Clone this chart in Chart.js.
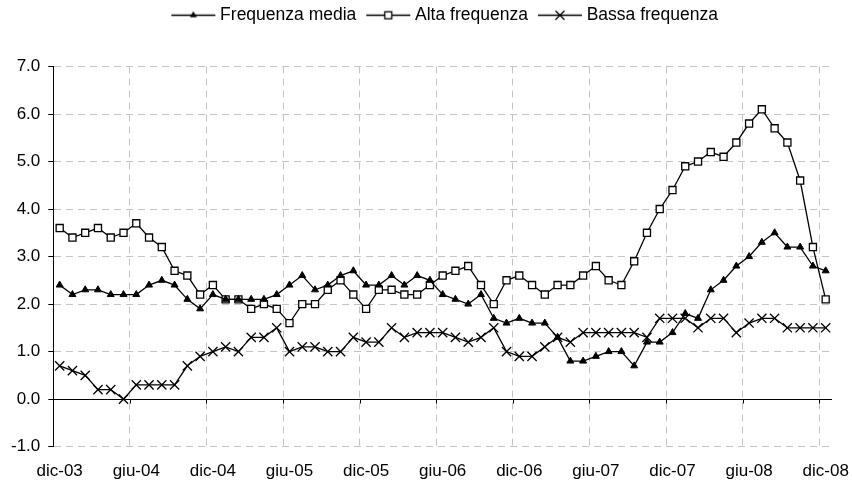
<!DOCTYPE html>
<html>
<head>
<meta charset="utf-8">
<script src="https://cdn.jsdelivr.net/npm/chart.js@4.4.0/dist/chart.umd.min.js"></script>
<style>
    body { margin: 0; background: #fff; }
</style>
</head>
<body>
<canvas id="myChart" width="852" height="482"></canvas>
<script>
// months dic-03 ... dic-08 (61 points)
const mesi = ["gen", "feb", "mar", "apr", "mag", "giu", "lug", "ago", "set", "ott", "nov", "dic"];
const anni = ["03", "04", "05", "06", "07", "08"];

const seriesNames = ["Frequenza media", "Alta frequenza", "Bassa frequenza"];

const mediaData = [
    2.4, 2.2, 2.3, 2.3, 2.2, 2.2, 2.2, 2.4, 2.5, 2.4,
    2.1, 1.9, 2.2, 2.1, 2.1, 2.1, 2.1, 2.2, 2.4, 2.6,
    2.3, 2.4, 2.6, 2.7, 2.4, 2.4, 2.6, 2.4, 2.6, 2.5,
    2.2, 2.1, 2.0, 2.2, 1.7, 1.6, 1.7, 1.6, 1.6, 1.3,
    0.8, 0.8, 0.9, 1.0, 1.0, 0.7, 1.2, 1.2, 1.4, 1.8,
    1.7, 2.3, 2.5, 2.8, 3.0, 3.3, 3.5, 3.2, 3.2, 2.8,
    2.7
];

const altaData = [
    3.6, 3.4, 3.5, 3.6, 3.4, 3.5, 3.7, 3.4, 3.2, 2.7,
    2.6, 2.2, 2.4, 2.1, 2.1, 1.9, 2.0, 1.9, 1.6, 2.0,
    2.0, 2.3, 2.5, 2.2, 1.9, 2.3, 2.3, 2.2, 2.2, 2.4,
    2.6, 2.7, 2.8, 2.4, 2.0, 2.5, 2.6, 2.4, 2.2, 2.4,
    2.4, 2.6, 2.8, 2.5, 2.4, 2.9, 3.5, 4.0, 4.4, 4.9,
    5.0, 5.2, 5.1, 5.4, 5.8, 6.1, 5.7, 5.4, 4.6, 3.2,
    2.1
];

const bassaData = [
    0.7, 0.6, 0.5, 0.2, 0.2, 0.0, 0.3, 0.3, 0.3, 0.3,
    0.7, 0.9, 1.0, 1.1, 1.0, 1.3, 1.3, 1.5, 1.0, 1.1,
    1.1, 1.0, 1.0, 1.3, 1.2, 1.2, 1.5, 1.3, 1.4, 1.4,
    1.4, 1.3, 1.2, 1.3, 1.5, 1.0, 0.9, 0.9, 1.1, 1.3,
    1.2, 1.4, 1.4, 1.4, 1.4, 1.4, 1.3, 1.7, 1.7, 1.7,
    1.5, 1.7, 1.7, 1.4, 1.6, 1.7, 1.7, 1.5, 1.5, 1.5,
    1.5
];

// build category labels "dic-03", "gen-04", ...
const labels = ["dic-" + anni[0]];
for (let a = 1; a < anni.length; a++) {
    for (let m = 0; m < 12; m++) {
        labels.push(mesi[m] + "-" + anni[a]);
    }
}

const FONT = "'Liberation Sans', Arial, sans-serif";
const GRID = "#c4c4c4";

// legend icon: short line with the marker in the middle
function legendIcon(kind) {
    const c = document.createElement("canvas");
    c.width = 56;
    c.height = 14;
    const g = c.getContext("2d");
    g.strokeStyle = "#000";
    g.lineWidth = 1.3;
    g.beginPath();
    g.moveTo(10, 7.5);
    g.lineTo(54, 7.5);
    g.stroke();
    const cx = 32, cy = 7.5;
    if (kind === "triangle") {
        g.fillStyle = "#000";
        g.beginPath();
        g.moveTo(cx, cy - 4);
        g.lineTo(cx + 3.5, cy + 2);
        g.lineTo(cx - 3.5, cy + 2);
        g.closePath();
        g.fill();
    } else if (kind === "rect") {
        g.fillStyle = "#fff";
        g.fillRect(cx - 3.5, cy - 3.5, 7, 7);
        g.strokeRect(cx - 3.5, cy - 3.5, 7, 7);
    } else {
        g.beginPath();
        g.moveTo(cx - 4.5, cy - 4.5);
        g.lineTo(cx + 4.5, cy + 4.5);
        g.moveTo(cx + 4.5, cy - 4.5);
        g.lineTo(cx - 4.5, cy + 4.5);
        g.stroke();
    }
    return c;
}
const icons = [legendIcon("triangle"), legendIcon("rect"), legendIcon("cross")];

// extra space under the legend
const legendGap = {
    id: "legendGap",
    beforeInit(chart) {
        const fit = chart.legend.fit;
        chart.legend.fit = function () {
            fit.bind(chart.legend)();
            this.height += 33;
        };
    }
};

// small tick marks under the zero line
const zeroTicks = {
    id: "zeroTicks",
    beforeDatasetsDraw(chart) {
        const x = chart.scales.x, y = chart.scales.y;
        const y0 = Math.round(y.getPixelForValue(0)) + 0.5;
        const ctx = chart.ctx;
        ctx.save();
        ctx.strokeStyle = "#000";
        ctx.lineWidth = 1;
        ctx.beginPath();
        for (let i = 6; i <= labels.length; i += 6) {
            const px = Math.round(x.getPixelForValue(i - 0.5)) + 0.5;
            ctx.moveTo(px, y0);
            ctx.lineTo(px, y0 + 4);
        }
        ctx.stroke();
        ctx.restore();
    }
};

const myChart = new Chart(document.getElementById("myChart"), {
    type: "line",
    data: {
        labels: labels,
        datasets: [{
            label: seriesNames[0],
            data: mediaData,
            borderColor: "#000",
            borderWidth: 1.3,
            pointStyle: "triangle",
            pointRadius: 4,
            pointBackgroundColor: "#000",
            pointBorderColor: "#000",
            pointBorderWidth: 1,
        }, {
            label: seriesNames[1],
            data: altaData,
            borderColor: "#000",
            borderWidth: 1.3,
            pointStyle: "rect",
            pointRadius: 5,
            pointBackgroundColor: "#fff",
            pointBorderColor: "#000",
            pointBorderWidth: 1.3,
        }, {
            label: seriesNames[2],
            data: bassaData,
            borderColor: "#000",
            borderWidth: 1.3,
            pointStyle: "crossRot",
            pointRadius: 6.5,
            pointBorderColor: "#000",
            pointBorderWidth: 1.3,
        }],
    },
    options: {
        responsive: false,
        animation: false,
        layout: {
            padding: { left: 3, right: 2, top: 0, bottom: -3 },
        },
        elements: {
            line: { tension: 0 },
        },
        plugins: {
            tooltip: { enabled: false },
            legend: {
                position: "top",
                fullSize: false,
                labels: {
                    usePointStyle: true,
                    pointStyleWidth: 44,
                    padding: 6,
                    color: "#000",
                    font: { family: FONT, size: 17.5 },
                    generateLabels: (chart) => seriesNames.map((name, i) => ({
                        text: name,
                        pointStyle: icons[i],
                        fillStyle: "#000",
                        strokeStyle: "#000",
                        lineWidth: 0,
                        datasetIndex: i,
                        hidden: false,
                    })),
                },
            },
        },
        scales: {
            x: {
                type: "category",
                offset: true,
                grid: {
                    offset: true,
                    drawTicks: true,
                    tickLength: 12,
                    tickColor: "rgba(0,0,0,0)",
                    color: (ctx) => (ctx.index !== undefined && ctx.index % 6 === 0) ? GRID : "rgba(0,0,0,0)",
                },
                border: {
                    display: false,
                    dash: [7, 5],
                },
                ticks: {
                    autoSkip: false,
                    maxRotation: 0,
                    padding: 3,
                    color: "#000",
                    font: { family: FONT, size: 17 },
                    callback: function (value, index) {
                        return index % 6 === 0 ? labels[index] : "";
                    },
                },
            },
            y: {
                min: -1,
                max: 7,
                grid: {
                    color: (ctx) => (ctx.tick && ctx.tick.value === 0) ? "#000" : GRID,
                    tickColor: "#000",
                    tickLength: 5,
                    tickBorderDash: [],
                },
                border: {
                    display: true,
                    color: "#000",
                    width: 1,
                    dash: (ctx) => (ctx.tick && ctx.tick.value === 0) ? [] : [7, 5],
                },
                ticks: {
                    stepSize: 1,
                    padding: 8,
                    color: "#000",
                    font: { family: FONT, size: 17 },
                    callback: (value) => value.toFixed(1),
                },
            },
        },
    },
    plugins: [legendGap, zeroTicks],
});
</script>
</body>
</html>
